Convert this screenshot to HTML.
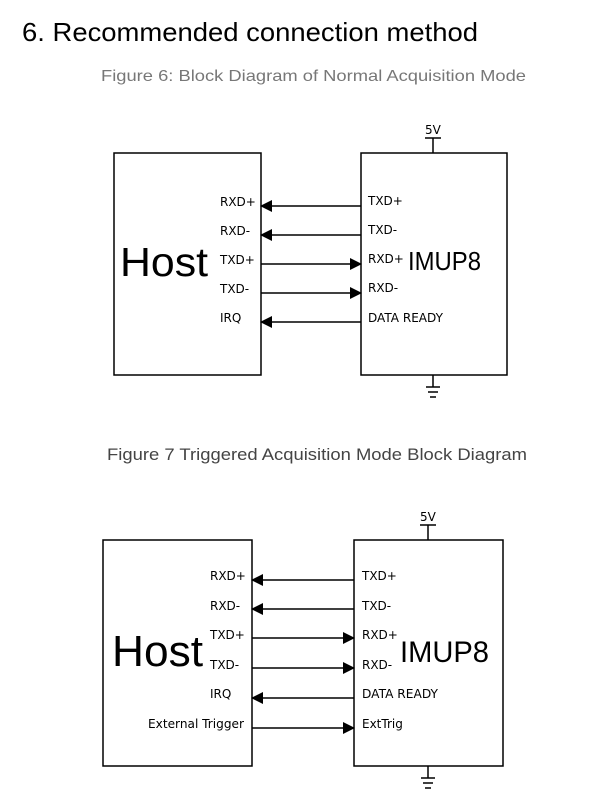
<!DOCTYPE html>
<html><head><meta charset="utf-8"><style>
html,body{margin:0;padding:0;background:#fff;width:602px;height:809px;overflow:hidden}
svg{display:block}
</style></head><body>
<svg width="602" height="809" viewBox="0 0 602 809" xmlns="http://www.w3.org/2000/svg" font-family="Liberation Sans, sans-serif">
<defs>
<marker id="a" markerWidth="12" markerHeight="12" refX="11" refY="6" orient="auto" markerUnits="userSpaceOnUse">
<path d="M0,0 L12,6 L0,12 Z" fill="#000"/></marker>
</defs>
<text x="22" y="41" font-size="26" fill="#000" textLength="456" lengthAdjust="spacingAndGlyphs">6. Recommended connection method</text>
<text x="101" y="81" font-size="16" fill="#777" textLength="425" lengthAdjust="spacingAndGlyphs">Figure 6: Block Diagram of Normal Acquisition Mode</text>
<text x="107" y="460" font-size="17" fill="#444" textLength="420" lengthAdjust="spacingAndGlyphs">Figure 7 Triggered Acquisition Mode Block Diagram</text>

<g stroke="#000" stroke-width="1.5" fill="none">
<rect x="114" y="153" width="147" height="222"/>
<rect x="361" y="153" width="146" height="222"/>
<line x1="433" y1="138" x2="433" y2="153"/><line x1="425" y1="138" x2="441" y2="138"/>
<line x1="433" y1="375" x2="433" y2="387"/><line x1="426" y1="387" x2="440" y2="387"/><line x1="428" y1="392" x2="438" y2="392"/><line x1="430" y1="397" x2="436" y2="397"/>
<line x1="361" y1="206" x2="261" y2="206" marker-end="url(#a)"/>
<line x1="361" y1="235" x2="261" y2="235" marker-end="url(#a)"/>
<line x1="261" y1="264" x2="361" y2="264" marker-end="url(#a)"/>
<line x1="261" y1="293" x2="361" y2="293" marker-end="url(#a)"/>
<line x1="361" y1="322" x2="261" y2="322" marker-end="url(#a)"/>

<rect x="103" y="540" width="149" height="226"/>
<rect x="354" y="540" width="149" height="226"/>
<line x1="428" y1="525" x2="428" y2="540"/><line x1="420" y1="525" x2="436" y2="525"/>
<line x1="428" y1="766" x2="428" y2="778"/><line x1="421" y1="778" x2="435" y2="778"/><line x1="423" y1="783" x2="433" y2="783"/><line x1="425" y1="788" x2="431" y2="788"/>
<line x1="354" y1="580" x2="252" y2="580" marker-end="url(#a)"/>
<line x1="354" y1="609" x2="252" y2="609" marker-end="url(#a)"/>
<line x1="252" y1="638" x2="354" y2="638" marker-end="url(#a)"/>
<line x1="252" y1="668" x2="354" y2="668" marker-end="url(#a)"/>
<line x1="354" y1="698" x2="252" y2="698" marker-end="url(#a)"/>
<line x1="252" y1="728" x2="354" y2="728" marker-end="url(#a)"/>
</g>

<g font-family="DejaVu Sans, sans-serif" font-size="12" fill="#000">
<text x="425" y="134" font-size="12">5V</text>
<text x="220" y="206">RXD+</text><text x="220" y="235">RXD-</text><text x="220" y="264">TXD+</text><text x="220" y="293">TXD-</text><text x="220" y="322">IRQ</text>
<text x="368" y="205">TXD+</text><text x="368" y="234">TXD-</text><text x="368" y="263">RXD+</text><text x="368" y="292">RXD-</text><text x="368" y="322" textLength="75" lengthAdjust="spacingAndGlyphs">DATA READY</text>

<text x="420" y="521">5V</text>
<text x="210" y="580">RXD+</text><text x="210" y="610">RXD-</text><text x="210" y="639">TXD+</text><text x="210" y="669">TXD-</text><text x="210" y="698">IRQ</text>
<text x="148" y="728" textLength="96" lengthAdjust="spacingAndGlyphs">External Trigger</text>
<text x="362" y="580">TXD+</text><text x="362" y="610">TXD-</text><text x="362" y="639">RXD+</text><text x="362" y="669">RXD-</text><text x="362" y="698" textLength="76" lengthAdjust="spacingAndGlyphs">DATA READY</text><text x="362" y="728">ExtTrig</text>
</g>
<text x="120" y="276" font-size="41" textLength="88" lengthAdjust="spacingAndGlyphs">Host</text>
<text x="408" y="270" font-size="26" textLength="73" lengthAdjust="spacingAndGlyphs">IMUP8</text>
<text x="112" y="666" font-size="44" textLength="91" lengthAdjust="spacingAndGlyphs">Host</text>
<text x="400" y="662" font-size="30" textLength="89" lengthAdjust="spacingAndGlyphs">IMUP8</text>
</svg>
</body></html>
